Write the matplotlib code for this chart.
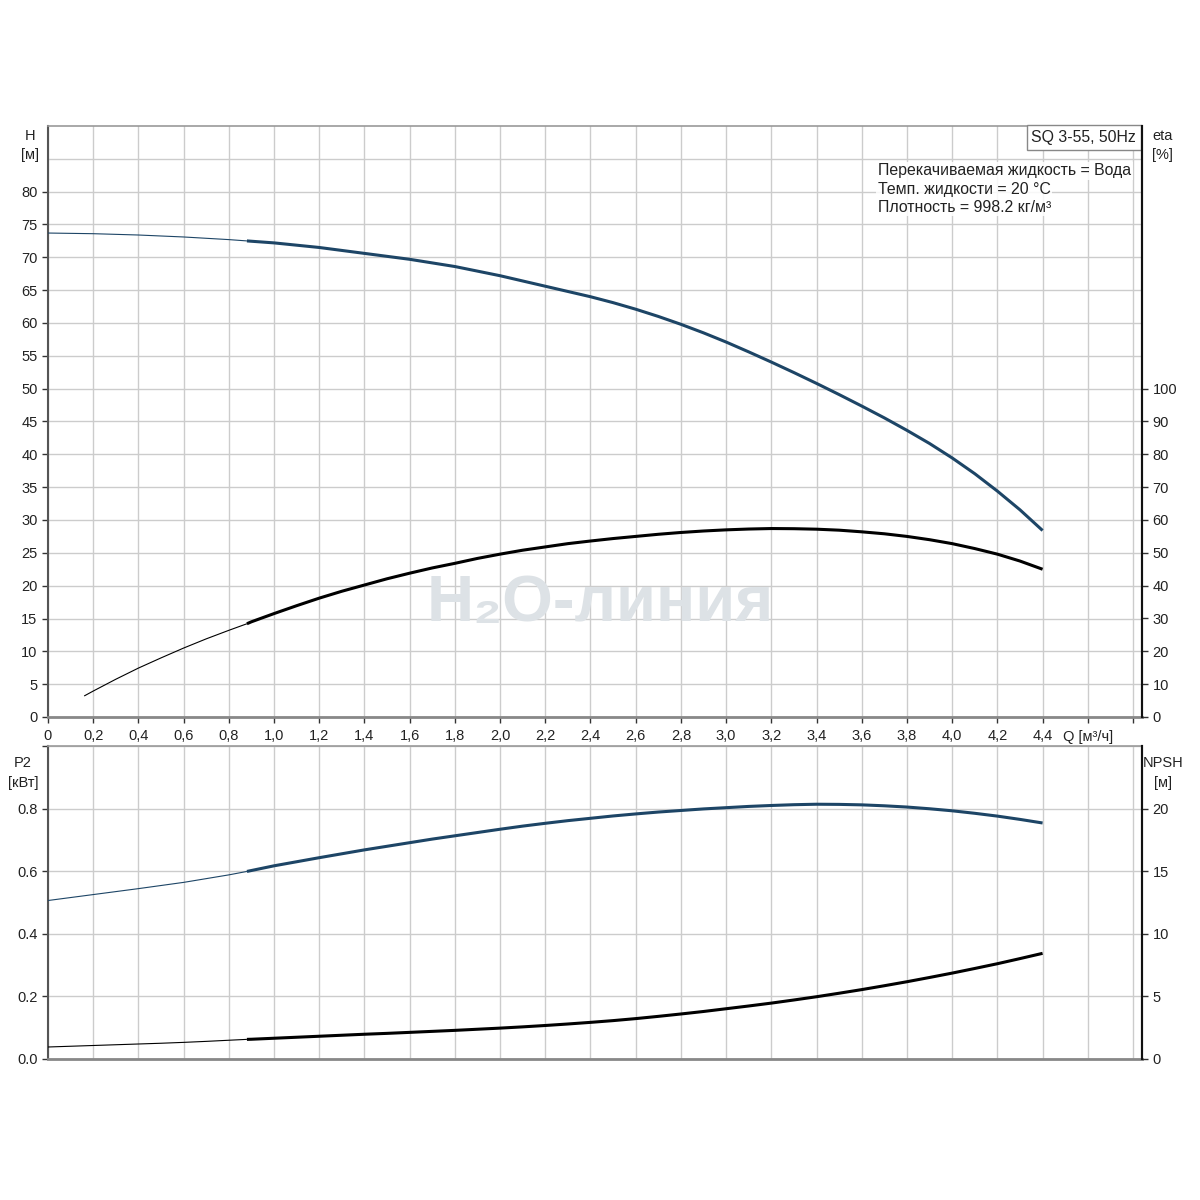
import matplotlib
matplotlib.use("Agg")
import matplotlib.pyplot as plt
import numpy as np

# ---- data ----
q = [0.0, 0.1, 0.2, 0.3, 0.4, 0.5, 0.6, 0.7, 0.8, 0.88, 0.9, 1.0, 1.1, 1.2, 1.3, 1.4,
     1.5, 1.6, 1.7, 1.8, 1.9, 2.0, 2.1, 2.2, 2.3, 2.4, 2.5, 2.6, 2.7, 2.8, 2.9, 3.0,
     3.1, 3.2, 3.3, 3.4, 3.5, 3.6, 3.7, 3.8, 3.9, 4.0, 4.1, 4.2, 4.3, 4.4]
head = [73.7, 73.65, 73.6, 73.5, 73.4, 73.25, 73.1, 72.9, 72.7, 72.5, 72.45, 72.2,
        71.85, 71.5, 71.05, 70.6, 70.15, 69.7, 69.15, 68.6, 67.9, 67.2, 66.4, 65.6,
        64.8, 64.0, 63.1, 62.1, 61.0, 59.8, 58.5, 57.1, 55.6, 54.05, 52.45, 50.8, 49.1,
        47.35, 45.55, 43.65, 41.65, 39.45, 37.05, 34.4, 31.55, 28.4]
p2 = [0.507, 0.5165, 0.526, 0.5355, 0.545, 0.555, 0.565, 0.577, 0.589, 0.600, 0.603,
      0.618, 0.631, 0.644, 0.6565, 0.669, 0.6805, 0.692, 0.7035, 0.714, 0.7245, 0.735,
      0.745, 0.754, 0.7625, 0.770, 0.7775, 0.784, 0.790, 0.795, 0.800, 0.804, 0.808,
      0.811, 0.8135, 0.815, 0.8145, 0.813, 0.810, 0.806, 0.8005, 0.794, 0.786, 0.777,
      0.7665, 0.755]
npsh = [0.96, 1.02, 1.08, 1.14, 1.2, 1.26, 1.33, 1.41, 1.5, 1.57, 1.58, 1.66, 1.74,
        1.82, 1.9, 1.98, 2.05, 2.13, 2.21, 2.29, 2.38, 2.47, 2.57, 2.68, 2.80, 2.93,
        3.07, 3.23, 3.41, 3.6, 3.80, 4.02, 4.24, 4.47, 4.72, 4.98, 5.26, 5.55, 5.86,
        6.18, 6.52, 6.87, 7.24, 7.62, 8.03, 8.45]
q_eta = [0.16, 0.2, 0.3, 0.4, 0.5, 0.6, 0.7, 0.8, 0.88, 0.9, 1.0, 1.1, 1.2, 1.3, 1.4,
         1.5, 1.6, 1.7, 1.8, 1.9, 2.0, 2.1, 2.2, 2.3, 2.4, 2.5, 2.6, 2.7, 2.8, 2.9,
         3.0, 3.1, 3.2, 3.3, 3.4, 3.5, 3.6, 3.7, 3.8, 3.9, 4.0, 4.1, 4.2, 4.3, 4.4]
eta = [6.4, 7.9, 11.5, 14.9, 18.0, 21.0, 23.8, 26.4, 28.4, 29.0, 31.5, 33.9, 36.2,
       38.3, 40.2, 42.1, 43.8, 45.4, 46.8, 48.3, 49.6, 50.8, 51.8, 52.8, 53.6, 54.35,
       55.0, 55.65, 56.2, 56.65, 57.0, 57.25, 57.4, 57.35, 57.2, 56.9, 56.4, 55.8, 55.0,
       54.0, 52.8, 51.3, 49.6, 47.5, 45.0]
split_q = 0.88

x_ticks = [round(0.2 * i, 1) for i in range(25)]
x_labels = [f"{v:.1f}".replace(".", ",") if v <= 4.4 else "" for v in x_ticks]
x_labels[0] = "0"
x_labels[23] = "Q [м³/ч]"
h_ticks = list(range(0, 85, 5))
eta_ticks = list(range(0, 110, 10))
p2_ticks = [0.0, 0.2, 0.4, 0.6, 0.8]
npsh_ticks = [0, 5, 10, 15, 20]

title_box = "SQ 3-55, 50Hz"
info_lines = ["Перекачиваемая жидкость = Вода",
              "Темп. жидкости = 20 °C",
              "Плотность = 998.2 кг/м³"]
watermark = "H₂O-линия"

plt.rcParams['font.family'] = ['Liberation Sans', 'DejaVu Sans']
BLUE = "#1d4566"
GRID = "#cccccc"
TXT = '#222222'
FS = 10.5
FS_INFO = 11.4

fig = plt.figure(figsize=(12, 12), dpi=100)
ax1 = fig.add_axes([0.04, 0.4025, 0.9117, 0.4925])
ax2 = fig.add_axes([0.04, 0.1175, 0.9117, 0.2605])

XMAX = 4.84


def split_plot(ax, xs, ys, color):
    xs = np.asarray(xs)
    ys = np.asarray(ys)
    thin = xs <= split_q
    thick = xs >= split_q
    ax.plot(xs[thin], ys[thin], color=color, lw=0.8, solid_capstyle='butt', zorder=3)
    ax.plot(xs[thick], ys[thick], color=color, lw=2.2, solid_capstyle='butt',
            solid_joinstyle='round', zorder=3)


for ax in (ax1, ax2):
    ax.set_xlim(0, XMAX)
    ax.set_xticks(x_ticks)
    ax.grid(True, color=GRID, lw=1.0, zorder=0)
    ax.set_axisbelow(True)
    ax.spines['left'].set_color('#555555')
    ax.spines['left'].set_linewidth(1.5)
    ax.spines['bottom'].set_color('#888888')
    ax.spines['bottom'].set_linewidth(2.0)
    ax.spines['top'].set_color('#999999')
    ax.spines['top'].set_linewidth(1.2)
    ax.spines['right'].set_color('#111111')
    ax.spines['right'].set_linewidth(1.5)
    ax.tick_params(axis='both', labelsize=FS, length=4, width=1, colors='#333333',
                   labelcolor=TXT)

# top axes
ax1.set_ylim(0, 90)
ax1.set_yticks(h_ticks)
ax1.axhline(85, color=GRID, lw=1.0, zorder=0)
ax1.set_xticklabels(x_labels)
ax1.tick_params(axis='x', pad=5)
split_plot(ax1, q, head, BLUE)

ax1r = ax1.twinx()
ax1r.set_ylim(0, 180)
ax1r.set_yticks(eta_ticks)
ax1r.tick_params(axis='y', labelsize=FS, length=4, width=1, colors='#333333',
                 labelcolor=TXT)
for s in ('left', 'top', 'bottom'):
    ax1r.spines[s].set_visible(False)
ax1r.spines['right'].set_color('#111111')
ax1r.spines['right'].set_linewidth(1.5)
split_plot(ax1r, q_eta, eta, 'black')

ax1.text(-0.0165, 0.995, "H", transform=ax1.transAxes, fontsize=FS, ha='center', va='top',
         color=TXT)
ax1.text(-0.0165, 0.962, "[м]", transform=ax1.transAxes, fontsize=FS, ha='center',
         va='top', color=TXT)
ax1.text(1.009, 0.995, "eta", transform=ax1.transAxes, fontsize=FS, ha='left', va='top',
         color=TXT)
ax1.text(1.009, 0.962, "[%]", transform=ax1.transAxes, fontsize=FS, ha='left', va='top',
         color=TXT)

ax1.text(0.9945, 0.993, title_box, transform=ax1.transAxes, fontsize=FS_INFO, ha='right',
         va='top', color=TXT, zorder=6,
         bbox=dict(boxstyle='square,pad=0.3', facecolor='white', edgecolor='#888888', lw=1))
for i, line in enumerate(info_lines):
    ax1.text(0.7585, 0.937 - i * 0.031, line, transform=ax1.transAxes, fontsize=FS_INFO,
             ha='left', va='top', color=TXT, zorder=6,
             bbox=dict(boxstyle='square,pad=0.1', facecolor='white', edgecolor='none',
                       alpha=0.85))

fig.text(0.5, 0.497, watermark, fontsize=47, fontweight='bold', color='#dde2e6',
         ha='center', va='center', zorder=1)

# bottom axes
ax2.set_ylim(0, 1.0)
ax2.set_yticks([0.0, 0.2, 0.4, 0.6, 0.8, 1.0])
ax2.set_yticklabels([f"{v:.1f}" for v in p2_ticks] + [""])
ax2.set_xticklabels([])
ax2.tick_params(axis='x', length=0)
split_plot(ax2, q, p2, BLUE)

ax2r = ax2.twinx()
ax2r.set_ylim(0, 25)
ax2r.set_yticks(npsh_ticks)
ax2r.tick_params(axis='y', labelsize=FS, length=4, width=1, colors='#333333',
                 labelcolor=TXT)
for s in ('left', 'top', 'bottom'):
    ax2r.spines[s].set_visible(False)
ax2r.spines['right'].set_color('#111111')
ax2r.spines['right'].set_linewidth(1.5)
split_plot(ax2r, q, npsh, 'black')

ax2.text(-0.023, 0.97, "P2", transform=ax2.transAxes, fontsize=FS, ha='center', va='top',
         color=TXT)
ax2.text(-0.023, 0.905, "[кВт]", transform=ax2.transAxes, fontsize=FS, ha='center',
         va='top', color=TXT)
ax2.text(1.019, 0.97, "NPSH", transform=ax2.transAxes, fontsize=FS, ha='center', va='top',
         color=TXT)
ax2.text(1.019, 0.905, "[м]", transform=ax2.transAxes, fontsize=FS, ha='center',
         va='top', color=TXT)

fig.savefig("out.png", dpi=100, facecolor='white')
